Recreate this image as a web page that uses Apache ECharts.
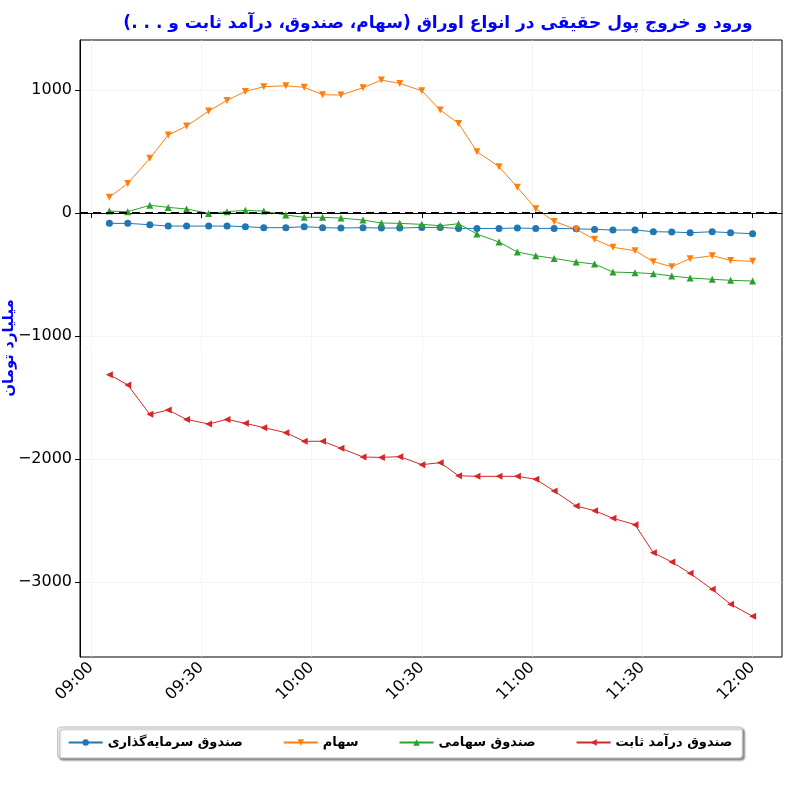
<!DOCTYPE html>
<html><head><meta charset="utf-8">
<script src="https://cdn.jsdelivr.net/npm/echarts@6/dist/echarts.min.js"></script>
<style>html,body{margin:0;padding:0;background:#fff}#c{width:800px;height:800px}</style>
</head><body><div id="c"></div>
<script>
const times = ["09:05","09:10","09:16","09:21","09:26","09:32","09:37","09:42","09:47","09:53","09:58","10:03","10:08","10:14","10:19","10:24","10:30","10:35","10:40","10:45","10:51","10:56","11:01","11:06","11:12","11:17","11:22","11:28","11:33","11:38","11:43","11:49","11:54","12:00"];
const investFund = [-84,-84,-95,-106,-106,-106,-106,-111,-119,-119,-111,-119,-122,-119,-122,-122,-117,-117,-125,-125,-125,-122,-125,-125,-128,-133,-138,-138,-152,-154,-160,-152,-160,-168];
const stocks = [128,241,445,634,707,829,916,989,1027,1035,1022,962,959,1019,1081,1054,994,837,729,499,377,209,35,-68,-133,-214,-279,-306,-396,-436,-371,-347,-385,-393];
const equityFund = [16,11,63,46,33,-3,11,22,16,-16,-35,-35,-41,-57,-81,-84,-92,-103,-87,-171,-236,-317,-347,-369,-398,-415,-480,-485,-493,-512,-528,-539,-547,-553];
const fixedFund = [-1314,-1398,-1637,-1602,-1678,-1715,-1678,-1710,-1745,-1786,-1856,-1856,-1913,-1984,-1987,-1981,-2046,-2030,-2136,-2141,-2141,-2141,-2165,-2260,-2382,-2420,-2482,-2534,-2762,-2837,-2930,-3060,-3181,-3279];
const tickLabels = ["09:00","09:30","10:00","10:30","11:00","11:30","12:00"];
const yTicks = [-3000,-2000,-1000,0,1000];
const names = ["صندوق سرمایه‌گذاری","سهام","صندوق سهامی","صندوق درآمد ثابت"];

const toMin = s => { const [h,m] = s.split(":").map(Number); return h*60+m; };
const fmt = v => { const h=Math.floor(v/60), m=Math.round(v%60); return String(h).padStart(2,"0")+":"+String(m).padStart(2,"0"); };
const pts = arr => arr.map((v,i)=>[toMin(times[i]), v]);
const font = "DejaVu Sans";

const chart = echarts.init(document.getElementById('c'));
const mk = (name, data, color, symbol, rot) => ({
  name, type:'line', data: pts(data), symbol, symbolSize: 7, symbolRotate: rot,
  lineStyle:{color, width:1}, itemStyle:{color}, z: 3
});
chart.setOption({
  animation:false,
  title:{text:"ورود و خروج پول حقیقی در انواع اوراق (سهام، صندوق، درآمد ثابت و . . .)", left:433, top:10, textAlign:'center',
    textStyle:{color:'#0000ff', fontSize:17, fontWeight:'bold', fontFamily:font}},
  graphic:[{type:'text', x:9, y:348, rotation:Math.PI/2,
    style:{text:"میلیارد تومان", fill:'#0000ff', font:"bold 15px 'DejaVu Sans'", align:'center', verticalAlign:'middle'}}],
  grid:{left:80, right:18, top:40, bottom:143, show:true, borderColor:'#000', borderWidth:1, outerBoundsMode:'none', containLabel:false},
  legend:{bottom:42, left:'center', itemGap:40, itemWidth:34, itemHeight:8, padding:[9,10],
    borderColor:'#bbb', borderWidth:1, borderRadius:3, shadowColor:'rgba(0,0,0,0.45)', shadowOffsetX:2, shadowOffsetY:2, shadowBlur:2,
    backgroundColor:'#fff', textStyle:{color:'#000', fontSize:13, fontWeight:'bold', fontFamily:font}, data:names},
  xAxis:{type:'value', min:toMin("08:57"), max:toMin("12:08"),
    axisLine:{lineStyle:{color:'#000'}}, splitLine:{show:true, lineStyle:{color:'#eee', width:0.6}, customValues: tickLabels.map(toMin)},
    axisTick:{show:true, length:5, lineStyle:{color:'#000'}, customValues: tickLabels.map(toMin)},
    axisLabel:{color:'#000', fontSize:16, rotate:45, fontFamily:font, customValues: tickLabels.map(toMin), formatter:v=>fmt(v)}},
  yAxis:{type:'value', min:-3610, max:1407,
    axisLine:{show:true, lineStyle:{color:'#000'}},
    splitLine:{show:true, lineStyle:{color:'#eee', width:0.6}, customValues:yTicks},
    axisTick:{show:true, length:5, lineStyle:{color:'#000'}, customValues:yTicks},
    axisLabel:{color:'#000', fontSize:16, fontFamily:font, customValues:yTicks, formatter:v=>v<0?'\u2212'+Math.abs(v):String(v)}},
  series:[
    mk(names[0], investFund, '#1f77b4', 'circle', 0),
    mk(names[1], stocks, '#ff7f0e', 'triangle', 180),
    mk(names[2], equityFund, '#2ca02c', 'triangle', 0),
    mk(names[3], fixedFund, '#d62728', 'triangle', 90),
    {type:'line', data:[], markLine:{silent:true, symbol:'none', label:{show:false},
      lineStyle:{color:'#000', type:[8,5], width:2}, data:[{yAxis:0}]}, z:5}
  ]
});
</script></body></html>
